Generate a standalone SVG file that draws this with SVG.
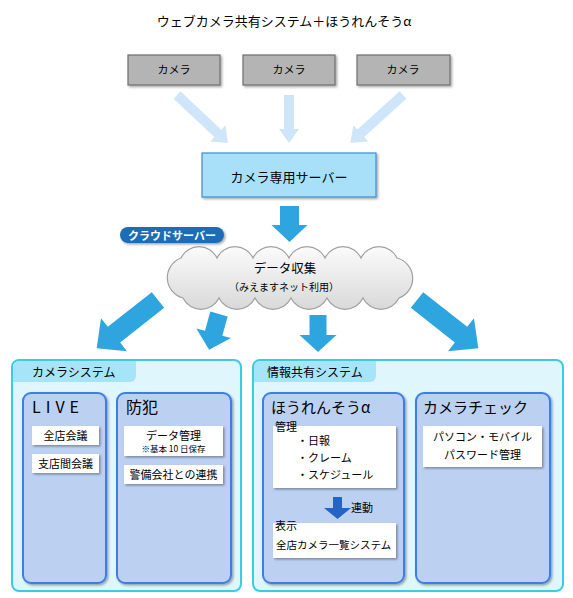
<svg xmlns="http://www.w3.org/2000/svg" width="573" height="598" viewBox="0 0 573 598">
<defs>
<filter id="sh" x="-10%" y="-10%" width="130%" height="140%"><feDropShadow dx="1.5" dy="1.5" stdDeviation="1" flood-color="#000" flood-opacity="0.35"/></filter>
<linearGradient id="cg" x1="0" y1="0" x2="0" y2="1"><stop offset="0" stop-color="#fbfbfb"/><stop offset="1" stop-color="#d9d9d9"/></linearGradient>
<style>
text{font-family:"Noto Sans CJK JP","Noto Sans",sans-serif;fill:#000}
.cam{fill:#b4b4b4;stroke:#6e6e6e;stroke-width:1.2}
.la{fill:#cfe6fa}
.ba{fill:#2ea5df}
.panel{fill:#e0f6fd;stroke:#3ccbe6;stroke-width:2}
.tab{fill:#a6e4f8}
.inner{fill:#bcd0f2;stroke:#3d7ee6;stroke-width:2}
.wb{fill:#fff}
.c{text-anchor:middle}
</style>
</defs>
<rect width="573" height="598" fill="#fff"/>
<text x="284" y="26" class="c" font-size="13">ウェブカメラ共有システム＋ほうれんそうα</text>

<g id="connectors">
<path class="la" d="M0,-5 L56,-5 L56,-11 L70,0 L56,11 L56,5 L0,5 Z" transform="translate(177,95) rotate(43.3)"/>
<path class="la" d="M0,-5 L34,-5 L34,-10 L48,0 L34,10 L34,5 L0,5 Z" transform="translate(289,95) rotate(90)"/>
<path class="la" d="M0,-5 L57,-5 L57,-11 L71,0 L57,11 L57,5 L0,5 Z" transform="translate(403,95) rotate(137.8)"/>
<path class="ba" d="M0,-9.5 L19,-9.5 L19,-18 L36,0 L19,18 L19,9.5 L0,9.5 Z" transform="translate(289.5,206) rotate(90)"/>
<path class="ba" d="M0,-10 L56,-10 L56,-21 L78,0 L56,21 L56,10 L0,10 Z" transform="translate(158,300) rotate(141.8)"/>
<path class="ba" d="M0,-9 L20,-9 L20,-18 L37,0 L20,18 L20,9 L0,9 Z" transform="translate(219,314) rotate(105.5)"/>
<path class="ba" d="M0,-8.5 L20,-8.5 L20,-18.5 L37,0 L20,18.5 L20,8.5 L0,8.5 Z" transform="translate(318,315) rotate(90)"/>
<path class="ba" d="M0,-10 L56,-10 L56,-21 L78,0 L56,21 L56,10 L0,10 Z" transform="translate(417,300) rotate(38.2)"/>
</g>

<g id="cam1"><rect class="cam" x="128" y="55" width="92" height="30" filter="url(#sh)"/><text x="174" y="74" class="c" font-size="11">カメラ</text></g>
<g id="cam2"><rect class="cam" x="243" y="55" width="92" height="30" filter="url(#sh)"/><text x="289" y="74" class="c" font-size="11">カメラ</text></g>
<g id="cam3"><rect class="cam" x="357" y="55" width="93" height="30" filter="url(#sh)"/><text x="403" y="74" class="c" font-size="11">カメラ</text></g>

<g id="server"><rect x="202" y="153" width="174" height="44" fill="#a8e0fa" stroke="#3b8fd0" stroke-width="1.2" filter="url(#sh)"/><text x="289" y="182" class="c" font-size="13">カメラ専用サーバー</text></g>

<g id="cloud-label"><rect x="120" y="227" width="104" height="16" rx="8" fill="#1b6db5" filter="url(#sh)"/><text x="172" y="239.5" class="c" font-size="11" font-weight="bold" style="fill:#fff">クラウドサーバー</text></g>

<g id="cloud">
<path d="M181,258 A20,20 0 0 1 217,258 A20,20 0 0 1 253,258 A20,20 0 0 1 289,258 A20,20 0 0 1 325,258 A20,20 0 0 1 361,258 A20,20 0 0 1 397,258 A21,21 0 0 1 399,298 A20,20 0 0 1 363,298 A20,20 0 0 1 327,298 A20,20 0 0 1 291,298 A20,20 0 0 1 255,298 A20,20 0 0 1 219,298 A20,20 0 0 1 183,298 A21,21 0 0 1 181,258 Z" fill="url(#cg)" stroke="#a0a0a0" stroke-width="1.2"/>
<text x="285" y="273" class="c" font-size="12.5">データ収集</text>
<text x="284" y="291" class="c" font-size="10">（みえますネット利用）</text>
</g>

<g id="camera-system">
<rect class="panel" x="12" y="360" width="229" height="231" rx="7"/>
<path class="tab" d="M13,367 A6,6 0 0 1 19,361 L136,361 L136,376 A6,6 0 0 1 130,382 L13,382 Z"/>
<text x="32" y="377" font-size="12">カメラシステム</text>
</g>
<g id="live">
<rect class="inner" x="23" y="393" width="83" height="190" rx="8" filter="url(#sh)"/>
<text x="32" y="413" font-size="16" letter-spacing="5">LIVE</text>
<rect class="wb" x="32" y="426" width="67" height="19" filter="url(#sh)"/>
<text x="65.5" y="440" class="c" font-size="11">全店会議</text>
<rect class="wb" x="32" y="454" width="67" height="19" filter="url(#sh)"/>
<text x="65.5" y="468" class="c" font-size="11">支店間会議</text>
</g>
<g id="bouhan">
<rect class="inner" x="117" y="393" width="114" height="190" rx="8" filter="url(#sh)"/>
<text x="126" y="413" font-size="16">防犯</text>
<rect class="wb" x="124" y="426" width="99" height="30" filter="url(#sh)"/>
<text x="173.5" y="440" class="c" font-size="11">データ管理</text>
<text x="173.5" y="452" class="c" font-size="8.5">※基本 10 日保存</text>
<rect class="wb" x="124" y="465" width="99" height="19" filter="url(#sh)"/>
<text x="173.5" y="479" class="c" font-size="11">警備会社との連携</text>
</g>

<g id="info-system">
<rect class="panel" x="253" y="360" width="310" height="231" rx="7"/>
<path class="tab" d="M254,367 A6,6 0 0 1 260,361 L376,361 L376,376 A6,6 0 0 1 370,382 L254,382 Z"/>
<text x="267" y="377" font-size="12">情報共有システム</text>
</g>
<g id="hourensou">
<rect class="inner" x="263" y="393" width="141" height="190" rx="8" filter="url(#sh)"/>
<text x="271" y="413" font-size="15">ほうれんそうα</text>
<rect class="wb" x="273" y="426" width="123" height="62" filter="url(#sh)"/>
<text x="275" y="431" font-size="11">管理</text>
<text x="297" y="445" font-size="11">・日報</text>
<text x="297" y="462" font-size="11">・クレーム</text>
<text x="297" y="479" font-size="11">・スケジュール</text>
<path d="M333,497 L342,497 L342,508 L351,508 L337.5,519 L324,508 L333,508 Z" fill="#2563c4"/>
<text x="351" y="512" font-size="11">連動</text>
<rect class="wb" x="273" y="523" width="123" height="35" filter="url(#sh)"/>
<text x="275" y="530" font-size="11">表示</text>
<text x="276" y="549" font-size="10.5">全店カメラ一覧システム</text>
</g>
<g id="camera-check">
<rect class="inner" x="416" y="393" width="134" height="190" rx="8" filter="url(#sh)"/>
<text x="423" y="413" font-size="15">カメラチェック</text>
<rect class="wb" x="423" y="426" width="119" height="41" filter="url(#sh)"/>
<text x="482.5" y="441" class="c" font-size="11">パソコン・モバイル</text>
<text x="482.5" y="459" class="c" font-size="11">パスワード管理</text>
</g>
</svg>
